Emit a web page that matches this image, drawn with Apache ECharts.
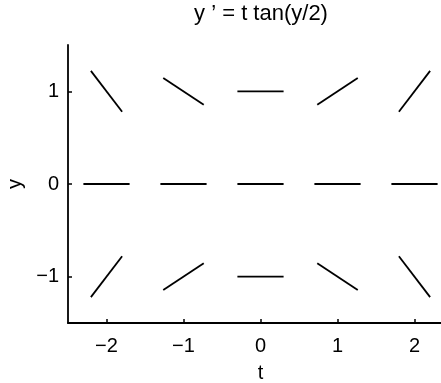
<!DOCTYPE html>
<html>
<head>
<meta charset="utf-8">
<script src="https://cdn.jsdelivr.net/npm/echarts@6/dist/echarts.min.js"></script>
<style>
  html, body { margin: 0; padding: 0; background: #fff; }
  #chart { width: 441px; height: 383px; }
</style>
</head>
<body>
<div id="chart"></div>
<script>
// grid of the direction field
var tValues = [-2, -1, 0, 1, 2];
var yValues = [1, 0, -1];
// slopes, one row per y value (top to bottom)
var slopeRows = [
    [-1.09, -0.55, 0, 0.55, 1.09],
    [0, 0, 0, 0, 0],
    [1.09, 0.55, 0, -0.55, -1.09]
];
var segLength = 0.6; // length of each little segment, in data units
var xTicks = [-2, -1, 0, 1, 2];
var yTicks = [-1, 0, 1];

var chart = echarts.init(document.getElementById("chart"));

// one line series per segment, centred on its grid point
var series = [];
yValues.forEach(function (y, i) {
    tValues.forEach(function (t, j) {
        var m = slopeRows[i][j];
        var dx = segLength / 2 / Math.sqrt(1 + m * m);
        var dy = m * dx;
        series.push({
            type: "line",
            symbol: "none",
            silent: true,
            animation: false,
            lineStyle: { color: "#000", width: 1.8 },
            data: [[t - dx, y - dy], [t + dx, y + dy]]
        });
    });
});

function minusFmt(v) {
    return v < 0 ? "\u2212" + Math.abs(v) : String(v);
}

var font = "Liberation Sans, Arial, Helvetica, sans-serif";

var option = {
    animation: false,
    backgroundColor: "#fff",
    title: {
        text: "y \u2019 = t tan(y/2)",
        left: 261,
        top: 3,
        textAlign: "center",
        padding: 0,
        textStyle: { fontFamily: font, fontSize: 22, fontWeight: "normal", color: "#000" }
    },
    grid: {
        left: 68, top: 45, width: 385, height: 278,
        containLabel: false,
        outerBoundsMode: "none"
    },
    xAxis: {
        type: "value",
        min: -2.5,
        max: 2.5,
        interval: 0.5,
        name: "t",
        nameLocation: "middle",
        nameGap: 40,
        nameTextStyle: { fontFamily: font, fontSize: 20, color: "#000" },
        axisLine: { show: true, onZero: false, lineStyle: { color: "#000", width: 1.8 } },
        axisTick: {
            show: true, inside: true, length: 4, lineStyle: { color: "#000", width: 1.5 },
            customValues: xTicks
        },
        axisLabel: {
            fontFamily: font, fontSize: 20, color: "#000", margin: 13,
            customValues: xTicks,
            formatter: minusFmt
        },
        splitLine: { show: false }
    },
    yAxis: {
        type: "value",
        min: -1.5,
        max: 1.5,
        interval: 0.5,
        name: "y",
        nameLocation: "middle",
        nameRotate: 90,
        nameGap: 37,
        nameTextStyle: { fontFamily: font, fontSize: 20, color: "#000" },
        axisLine: { show: true, onZero: false, lineStyle: { color: "#000", width: 1.8 } },
        axisTick: {
            show: true, inside: true, length: 4, lineStyle: { color: "#000", width: 1.5 },
            customValues: yTicks
        },
        axisLabel: {
            fontFamily: font, fontSize: 20, color: "#000", margin: 9,
            customValues: yTicks,
            formatter: minusFmt
        },
        splitLine: { show: false }
    },
    series: series
};

chart.setOption(option);
</script>
</body>
</html>
